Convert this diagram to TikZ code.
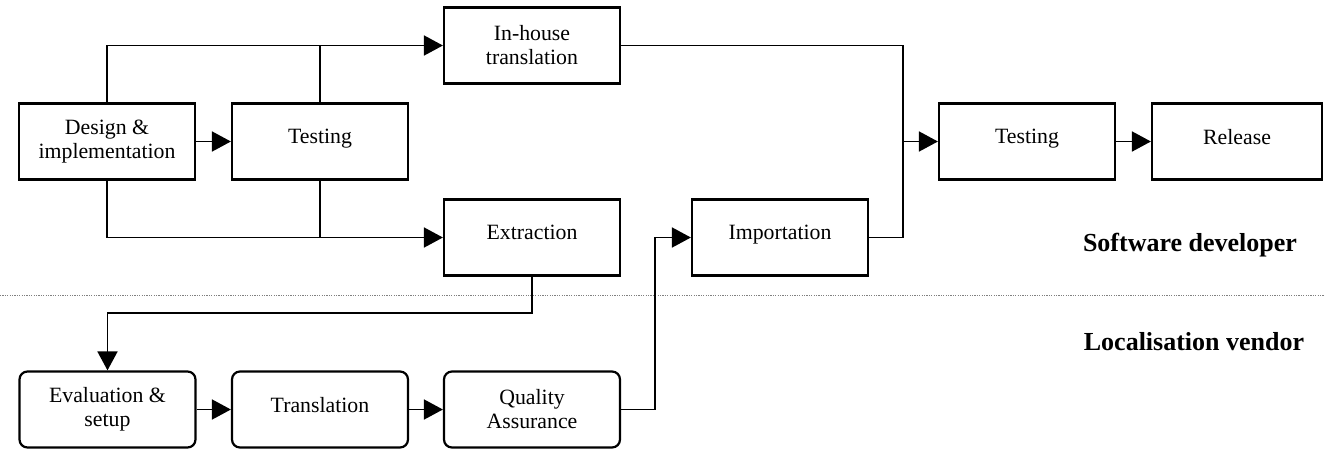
\documentclass[tikz,border=0pt]{standalone}
\usepackage{fontspec}
\setmainfont{Liberation Serif}
\usepackage{tikz}
\usetikzlibrary{calc,arrows.meta}

\begin{document}
\begin{tikzpicture}[x=0.5pt,y=-0.5pt,
  box/.style={draw,line width=1.1pt,minimum width=88pt,minimum height=38pt,
    align=center,font=\fontsize{10.9}{12}\selectfont,inner sep=1pt},
  onebox/.style={box,text depth=5pt},
  rbox/.style={box,rounded corners=4pt},
  conn/.style={line width=0.9pt},
  arr/.style={conn,-{Triangle[length=9.5pt,width=10pt]}},
  side/.style={font=\fontsize{13}{15}\selectfont\bfseries}]
  \useasboundingbox (0,0) rectangle (1325,450);
  \node[box] (design) at (107,141.5) {Design \&\\implementation};
  \node[onebox] (test1) at (320,141.5) {Testing};
  \node[box] (inhouse) at (532,45.5) {In-house\\translation};
  \node[onebox] (extract) at (532,237.5) {Extraction};
  \node[onebox] (import) at (780,237.5) {Importation};
  \node[onebox] (test2) at (1027,141.5) {Testing};
  \node[onebox,minimum width=85pt] (release) at (1237,141.5) {Release};
  \node[rbox] (eval) at (107.5,409.5) {Evaluation \&\\setup};
  \node[rbox,text depth=5pt] (transl) at (320,409.5) {Translation};
  \node[rbox] (qa) at (532,409.5) {Quality\\Assurance};
  \node[side] (dev) at (1190,245) {Software developer};
  \node[side] (vendor) at (1194,342) {Localisation vendor};
  \coordinate (join) at (903,141.5);
  \coordinate (lowbus) at (320,313);
  \coordinate (upbus) at (655,320);
  % company / vendor boundary
  \draw[gray,line width=0.5pt,dash pattern=on 0.6pt off 0.6pt] (0,295) -- (1325,295);
  \draw[arr] (design) -- (test1);
  \draw[arr] (design.north) |- (inhouse.west);
  \draw[conn] (test1.north) -- (test1.north |- inhouse.west);
  \draw[arr] (design.south) |- (extract.west);
  \draw[conn] (test1.south) -- (test1.south |- extract.west);
  \draw[conn] (inhouse.east) -| (join);
  \draw[conn] (import.east) -| (join);
  \draw[arr] (join) -- (test2.west);
  \draw[arr] (test2) -- (release);
  \draw[arr] (extract.south) |- (lowbus) -| (eval.north);
  \draw[arr] (eval) -- (transl);
  \draw[arr] (transl) -- (qa);
  \draw[arr] (qa.east) -| (upbus) |- (import.west);
\end{tikzpicture}
\end{document}
